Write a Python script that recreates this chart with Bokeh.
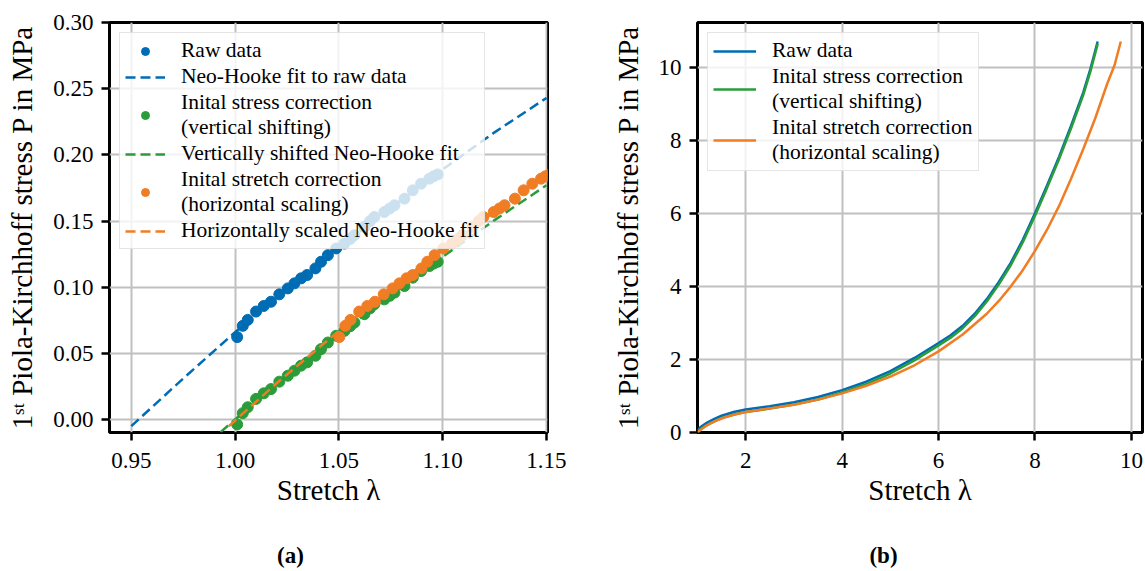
from bokeh.plotting import figure
from bokeh.layouts import row, column
from bokeh.models import (Legend, LegendItem, FixedTicker,
                          NumeralTickFormatter, Range1d)
from bokeh.core.properties import value
from bokeh.embed import file_html
from bokeh.resources import INLINE

FONT = "Liberation Serif"
BLUE = "#006cb4"
GREEN = "#2a9d3a"
ORANGE = "#f07d24"

# ---------------- (a) small-stretch region ----------------
raw_x = [1.001, 1.0037, 1.0061, 1.0101, 1.0138, 1.0173, 1.0213, 1.0254, 1.0286,
         1.0318, 1.0347, 1.0387, 1.0414, 1.0447, 1.0487, 1.0527, 1.0555, 1.0575,
         1.0623, 1.0650, 1.0671, 1.0719, 1.0745, 1.0768, 1.0816, 1.0856, 1.0896,
         1.0936, 1.0956, 1.0976]
raw_y = [0.0623, 0.0708, 0.0753, 0.0816, 0.0858, 0.0890, 0.0946, 0.0991, 0.1029,
         0.1067, 0.1092, 0.1142, 0.1192, 0.1242, 0.1293, 0.1330, 0.1365, 0.1393,
         0.1456, 0.1500, 0.1531, 0.1568, 0.1595, 0.1619, 0.1669, 0.1732, 0.1782,
         0.1820, 0.1838, 0.1852]
shift_y = [-0.0037, 0.0048, 0.0093, 0.0156, 0.0198, 0.0230, 0.0286, 0.0331, 0.0369,
           0.0407, 0.0432, 0.0482, 0.0532, 0.0582, 0.0633, 0.0670, 0.0705, 0.0733,
           0.0796, 0.0840, 0.0871, 0.0908, 0.0935, 0.0959, 0.1009, 0.1072, 0.1122,
           0.1160, 0.1178, 0.1192]
scaled_x = [1.0502, 1.0531, 1.0556, 1.0598, 1.0637, 1.0674, 1.0716, 1.0759, 1.0792,
            1.0826, 1.0856, 1.0898, 1.0926, 1.0961, 1.1003, 1.1045, 1.1074, 1.1095,
            1.1146, 1.1174, 1.1196, 1.1246, 1.1274, 1.1298, 1.1348, 1.1390, 1.1432,
            1.1474, 1.1495, 1.1516]

fit_raw_x = [0.95, 0.975, 1.00, 1.025, 1.05, 1.075, 1.10, 1.125, 1.15]
fit_raw_y = [-0.005, 0.031, 0.066, 0.099, 0.130, 0.160, 0.189, 0.217, 0.243]
fit_shift_x = [0.993, 1.00, 1.025, 1.05, 1.075, 1.10, 1.125, 1.15]
fit_shift_y = [-0.0095, 0.0, 0.033, 0.0643, 0.0944, 0.123, 0.1507, 0.177]
fit_scaled_x = [0.997, 1.02, 1.05, 1.075, 1.10, 1.125, 1.15]
fit_scaled_y = [-0.005, 0.0274, 0.067, 0.0984, 0.1284, 0.157, 0.1847]

a_xticks = [0.95, 1.00, 1.05, 1.10, 1.15]
a_yticks = [0.00, 0.05, 0.10, 0.15, 0.20, 0.25, 0.30]

# ---------------- (b) full curves ----------------
b_raw_x = [1.0, 1.05, 1.1, 1.2, 1.35, 1.5, 1.75, 2.0, 2.5, 3.0, 3.5, 4.0, 4.5, 5.0,
           5.5, 6.0, 6.25, 6.5, 6.75, 7.0, 7.25, 7.5, 7.75, 8.0, 8.25, 8.5, 8.75,
           9.0, 9.15, 9.3]
b_raw_y = [0.062, 0.13, 0.185, 0.27, 0.37, 0.46, 0.56, 0.63, 0.72, 0.83, 0.97, 1.16,
           1.39, 1.68, 2.04, 2.45, 2.66, 2.92, 3.25, 3.65, 4.12, 4.65, 5.28, 6.0,
           6.76, 7.55, 8.4, 9.3, 9.95, 10.7]
b_shift_x = [1.0, 1.05, 1.1, 1.2, 1.35, 1.5, 1.75, 2.0, 2.5, 3.0, 3.5, 4.0, 4.5, 5.0,
             5.5, 6.0, 6.25, 6.5, 6.75, 7.0, 7.25, 7.5, 7.75, 8.0, 8.25, 8.5, 8.75,
             9.0, 9.15, 9.3]
b_shift_y = [-0.004, 0.064, 0.119, 0.204, 0.304, 0.394, 0.494, 0.564, 0.654, 0.764,
             0.904, 1.094, 1.324, 1.614, 1.974, 2.384, 2.594, 2.854, 3.184, 3.584,
             4.054, 4.584, 5.214, 5.934, 6.694, 7.484, 8.334, 9.234, 9.884, 10.634]
b_scaled_x = [1.0, 1.05, 1.1, 1.15, 1.25, 1.4, 1.6, 1.8, 2.0, 2.5, 3.0, 3.5, 4.0, 4.5,
              5.0, 5.5, 6.0, 6.5, 7.0, 7.25, 7.5, 7.75, 8.0, 8.25, 8.5, 8.75, 9.0,
              9.25, 9.5, 9.65, 9.78]
b_scaled_y = [0.0, 0.062, 0.11, 0.16, 0.24, 0.33, 0.43, 0.50, 0.56, 0.66, 0.76, 0.90,
              1.07, 1.28, 1.53, 1.84, 2.22, 2.68, 3.25, 3.6, 4.0, 4.45, 4.97, 5.55,
              6.2, 6.95, 7.75, 8.6, 9.55, 10.05, 10.7]

b_xticks = [2, 4, 6, 8, 10]
b_yticks = [0, 2, 4, 6, 8, 10]

YLABEL = "1\u02e2\u1d57 Piola-Kirchhoff stress P in MPa"
XLABEL = "Stretch \u03bb"

# sub-figure captions (horizontal pixel centres of the two sub-figures)
cap_text = ["(a)", "(b)"]
cap_x = [290, 883]


def style(p, xticks, yticks, fmt):
    p.outline_line_color = "black"
    p.outline_line_width = 3
    p.background_fill_color = "white"
    p.border_fill_color = "white"
    for ax, ticks in ((p.xaxis, xticks), (p.yaxis, yticks)):
        ax.ticker = FixedTicker(ticks=ticks)
        ax.formatter = NumeralTickFormatter(format=fmt)
        ax.axis_line_color = None
        ax.major_tick_line_color = "black"
        ax.major_tick_line_width = 2.5
        ax.major_tick_out = 8
        ax.major_tick_in = 0
        ax.minor_tick_line_color = None
        ax.major_label_text_font = FONT
        ax.major_label_text_font_size = "23px"
        ax.major_label_text_color = "black"
        ax.axis_label_text_font = FONT
        ax.axis_label_text_font_size = "29px"
        ax.axis_label_text_font_style = "normal"
        ax.axis_label_text_color = "black"
    p.xaxis.major_label_standoff = 12
    p.yaxis.major_label_standoff = 8
    p.xaxis.axis_label = XLABEL
    p.yaxis.axis_label = YLABEL
    p.xaxis.axis_label_standoff = 3
    p.yaxis.axis_label_standoff = 12
    for g, ticks in ((p.xgrid, xticks), (p.ygrid, yticks)):
        g.ticker = FixedTicker(ticks=ticks)
        g.grid_line_color = "#c0c0c0"
        g.grid_line_width = 2
        g.grid_line_alpha = 1.0


def style_legend(lg, gw):
    lg.location = "top_left"
    lg.margin = 10
    lg.padding = 5
    lg.spacing = 1
    lg.glyph_width = gw
    lg.glyph_height = 20
    lg.label_height = 20
    lg.label_standoff = 16
    lg.label_text_font = FONT
    lg.label_text_font_size = "21.5px"
    lg.label_text_color = "black"
    lg.label_text_line_height = 0.95
    lg.border_line_color = "#cccccc"
    lg.border_line_width = 1.5
    lg.background_fill_color = "white"
    lg.background_fill_alpha = 0.8


# ---------- panel (a) ----------
pa = figure(width=575, height=531, output_backend="svg", toolbar_location=None,
            x_range=Range1d(0.9395, 1.1505), y_range=Range1d(-0.0098, 0.30),
            min_border_left=109, min_border_right=28, min_border_top=22,
            min_border_bottom=99)
style(pa, a_xticks, a_yticks, "0.00")

r1 = pa.scatter(raw_x, raw_y, size=11, color=BLUE)
r2 = pa.line(fit_raw_x, fit_raw_y, line_color=BLUE, line_width=2.5, line_dash="10 5")
r3 = pa.scatter(raw_x, shift_y, size=11, color=GREEN)
r4 = pa.line(fit_shift_x, fit_shift_y, line_color=GREEN, line_width=2.5, line_dash="10 5")
r5 = pa.scatter(scaled_x, raw_y, size=11, color=ORANGE)
r6 = pa.line(fit_scaled_x, fit_scaled_y, line_color=ORANGE, line_width=2.5, line_dash="10 5")

lga = Legend(items=[
    LegendItem(label="Raw data", renderers=[r1]),
    LegendItem(label="Neo-Hooke fit to raw data", renderers=[r2]),
    LegendItem(label="Inital stress correction\n(vertical shifting)", renderers=[r3]),
    LegendItem(label="Vertically shifted Neo-Hooke fit", renderers=[r4]),
    LegendItem(label="Inital stretch correction\n(horizontal scaling)", renderers=[r5]),
    LegendItem(label="Horizontally scaled Neo-Hooke fit", renderers=[r6]),
])
style_legend(lga, 40)
pa.add_layout(lga, "center")

# ---------- panel (b) ----------
pb = figure(width=570, height=531, output_backend="svg", toolbar_location=None,
            x_range=Range1d(1.0, 10.23), y_range=Range1d(0.0, 11.22),
            min_border_left=122, min_border_right=3, min_border_top=13,
            min_border_bottom=99)
style(pb, b_xticks, b_yticks, "0")

q1 = pb.line(b_raw_x, b_raw_y, line_color=BLUE, line_width=2.5)
q2 = pb.line(b_shift_x, b_shift_y, line_color=GREEN, line_width=2.5)
q3 = pb.line(b_scaled_x, b_scaled_y, line_color=ORANGE, line_width=2.5)

lgb = Legend(items=[
    LegendItem(label="Raw data", renderers=[q1]),
    LegendItem(label="Inital stress correction\n(vertical shifting)", renderers=[q2]),
    LegendItem(label="Inital stretch correction\n(horizontal scaling)", renderers=[q3]),
])
style_legend(lgb, 43)
pb.add_layout(lgb, "center")

# ---------- caption strip ----------
pc = figure(width=1145, height=40, output_backend="svg", toolbar_location=None,
            x_range=Range1d(0, 1145), y_range=Range1d(0, 40),
            x_axis_type=None, y_axis_type=None,
            min_border_left=0, min_border_right=0, min_border_top=0,
            min_border_bottom=0)
pc.outline_line_color = None
pc.grid.visible = False
pc.background_fill_color = "white"
pc.border_fill_color = "white"
pc.text(x=cap_x, y=[16] * len(cap_x), text=cap_text, text_align="center",
        text_baseline="middle", text_font=value(FONT), text_font_size="23px",
        text_font_style="bold", text_color="black")

layout = column(row(pa, pb), pc)
open("out.html", "w").write(file_html(layout, INLINE))
